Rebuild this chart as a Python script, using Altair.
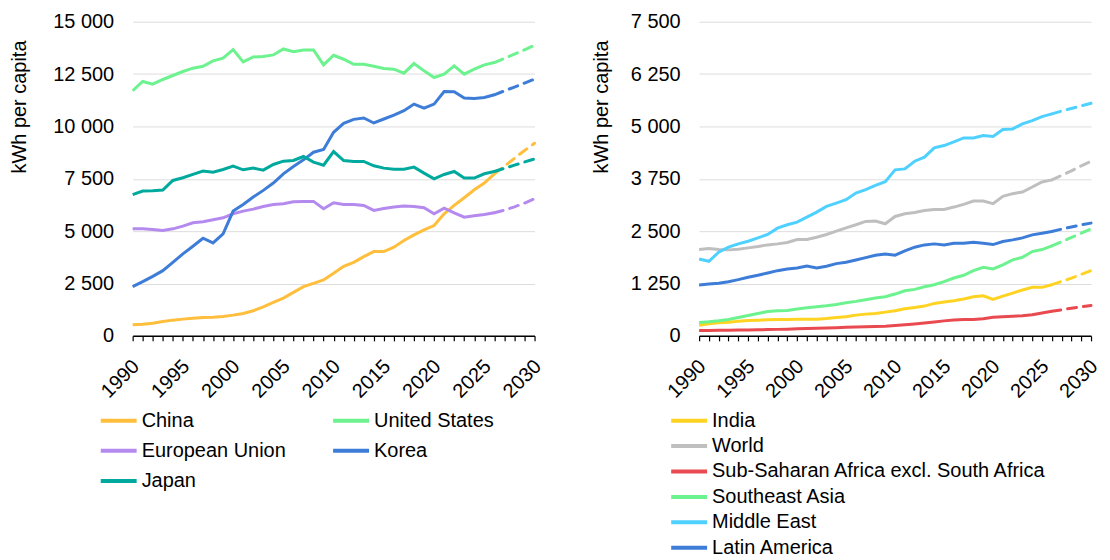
import altair as alt
import pandas as pd

years = list(range(1990, 2031))
split_year = 2026

left_names = ["China", "United States", "European Union", "Korea", "Japan"]
left_colors = ["#FFBE3C", "#6CF28E", "#B48AEE", "#3D7DD8", "#00A99D"]
china = [527, 559, 607, 687, 751, 799, 846, 878, 894, 926,
         990, 1070, 1198, 1389, 1597, 1805, 2076, 2348, 2507, 2667,
         2986, 3322, 3513, 3785, 4024, 4024, 4232, 4551, 4823, 5062,
         5270, 5829, 6228, 6596, 6979, 7298, 7739, 8100, 8480, 8850, 9198]
united_states = [11703, 12146, 12020, 12242, 12432, 12622, 12781, 12876, 13129, 13256,
                 13668, 13082, 13320, 13335, 13415, 13700, 13573, 13653, 13653, 12939,
                 13399, 13209, 12971, 12971, 12876, 12765, 12733, 12543, 13003, 12654,
                 12337, 12495, 12892, 12495, 12733, 12939, 13050, 13250, 13450, 13660, 13874]
european_union = [5110, 5110, 5078, 5030, 5110, 5238, 5398, 5446, 5541, 5637,
                  5829, 5957, 6053, 6180, 6276, 6308, 6404, 6420, 6420, 6069,
                  6356, 6276, 6276, 6228, 5989, 6085, 6148, 6196, 6180, 6116,
                  5829, 6100, 5877, 5669, 5733, 5797, 5877, 6000, 6160, 6340, 6548]
korea = [2348, 2587, 2843, 3114, 3513, 3913, 4280, 4663, 4440, 4871,
         5957, 6276, 6628, 6947, 7298, 7739, 8088, 8405, 8770, 8897,
         9721, 10149, 10339, 10403, 10165, 10355, 10545, 10751, 11068, 10878,
         11068, 11671, 11655, 11354, 11338, 11385, 11512, 11700, 11880, 12070, 12257]
japan = [6741, 6915, 6931, 6963, 7422, 7549, 7708, 7866, 7819, 7945,
         8104, 7930, 8009, 7914, 8183, 8342, 8374, 8564, 8294, 8151,
         8802, 8374, 8326, 8326, 8120, 8009, 7961, 7961, 8056, 7771,
         7501, 7708, 7850, 7533, 7533, 7739, 7850, 8000, 8150, 8300, 8453]

right_names = ["India", "World", "Sub-Saharan Africa excl. South Africa",
               "Southeast Asia", "Middle East", "Latin America"]
right_colors = ["#FFD321", "#BFBFBF", "#E84A50", "#6CF28E", "#4FD1FF", "#3D7DD8"]
india = [256, 288, 311, 327, 351, 367, 375, 383, 391, 391,
         399, 399, 399, 415, 439, 455, 495, 519, 535, 567,
         599, 647, 679, 711, 775, 807, 839, 879, 934, 958,
         871, 950, 1022, 1094, 1158, 1158, 1222, 1300, 1380, 1470, 1557]
world = [2061, 2085, 2061, 2053, 2069, 2101, 2133, 2172, 2196, 2228,
         2300, 2300, 2356, 2420, 2500, 2580, 2652, 2732, 2740, 2676,
         2851, 2915, 2947, 2995, 3019, 3019, 3075, 3139, 3219, 3219,
         3155, 3331, 3395, 3435, 3554, 3674, 3725, 3830, 3940, 4060, 4170]
ssa = [128, 130, 132, 135, 138, 141, 145, 150, 155, 160,
       168, 173, 180, 188, 196, 204, 212, 220, 226, 232,
       248, 266, 285, 305, 330, 358, 378, 392, 390, 410,
       445, 455, 468, 480, 505, 548, 588, 622, 660, 695, 727]
southeast_asia = [319, 335, 359, 391, 439, 487, 535, 583, 599, 607,
                  639, 671, 695, 719, 751, 791, 823, 863, 903, 934,
                  998, 1078, 1110, 1174, 1222, 1294, 1382, 1446, 1557, 1637,
                  1597, 1693, 1813, 1877, 2013, 2061, 2149, 2250, 2350, 2450, 2556]
middle_east = [1837, 1781, 1997, 2117, 2196, 2260, 2340, 2420, 2572, 2652,
               2716, 2835, 2955, 3091, 3171, 3251, 3410, 3490, 3594, 3680,
               3964, 3987, 4170, 4266, 4488, 4544, 4631, 4726, 4726, 4782,
               4758, 4925, 4941, 5060, 5140, 5235, 5299, 5370, 5430, 5490, 5553]
latin_america = [1214, 1238, 1254, 1294, 1342, 1398, 1446, 1502, 1557, 1597,
                 1621, 1669, 1621, 1661, 1725, 1757, 1813, 1869, 1925, 1957,
                 1925, 2029, 2117, 2172, 2196, 2172, 2212, 2212, 2236, 2212,
                 2180, 2252, 2292, 2340, 2412, 2452, 2492, 2550, 2600, 2650, 2692]

left_ticks = [0, 2500, 5000, 7500, 10000, 12500, 15000]
right_ticks = [0, 1250, 2500, 3750, 5000, 6250, 7500]

FONT = "Liberation Sans"


def make_df(names, series):
    rows = []
    for n, vals in zip(names, series):
        for yr, v in zip(years, vals):
            rows.append({"year": yr, "value": v, "series": n})
    return pd.DataFrame(rows)


def panel(names, series, colors, ticks, width, columns, direction, row_pad, col_pad,
          lx, ly, title_pad):
    df = make_df(names, series)
    x = alt.X("year:Q",
              scale=alt.Scale(domain=[1990, 2030], nice=False, zero=False),
              axis=alt.Axis(values=years, title=None, grid=False,
                            labelExpr="datum.value % 5 == 0 ? format(datum.value, 'd') : ''",
                            labelAngle=-45, labelAlign="right", labelBaseline="top",
                            labelPadding=15, labelOffset=-4, labelOverlap=False,
                            labelFlush=False, labelBound=False, tickSize=5,
                            tickColor="black", domainColor="black", domainWidth=1.5,
                            tickWidth=1.2))
    y = alt.Y("value:Q",
              scale=alt.Scale(domain=[ticks[0], ticks[-1]], nice=False),
              axis=alt.Axis(values=ticks, title="kWh per capita", grid=True,
                            domain=False, ticks=False, tickSize=0, labelPadding=19,
                            labelExpr="replace(format(datum.value, ','), ',', ' ')",
                            titlePadding=title_pad, titleY=85))
    color = alt.Color("series:N",
                      scale=alt.Scale(domain=names, range=colors),
                      legend=alt.Legend(title=None, orient="none", legendX=lx, legendY=ly,
                                        columns=columns, direction=direction,
                                        rowPadding=row_pad, columnPadding=col_pad,
                                        clipHeight=24,
                                        symbolType="stroke", symbolStrokeWidth=4,
                                        symbolSize=1296, labelOffset=3, labelLimit=0,
                                        labelFontSize=20, labelFont=FONT,
                                        labelColor="black", padding=0))
    base = alt.Chart(df)
    solid = base.mark_line(strokeWidth=3).encode(x=x, y=y, color=color).transform_filter(
        alt.datum.year <= split_year)
    dashed = base.mark_line(strokeWidth=3, strokeDash=[9, 7], strokeCap="round").encode(
        x=x, y=y, color=color).transform_filter(alt.datum.year >= split_year)
    return alt.layer(solid, dashed).properties(width=width, height=315)


left = panel(left_names, [china, united_states, european_union, korea, japan],
             left_colors, left_ticks, 403, 2, "horizontal", 6.3, 45, -34, 388, 23)
right = panel(right_names, [india, world, ssa, southeast_asia, middle_east, latin_america],
              right_colors, right_ticks, 393, 1, "vertical", 1.5, 10, -30, 388, 19)

chart = alt.hconcat(left, right, spacing=45).resolve_scale(color="independent").properties(
    padding={"left": 1, "top": 3, "right": 0, "bottom": 5}
).configure_view(stroke=None).configure_axis(
    labelFont=FONT, titleFont=FONT, labelFontSize=20, titleFontSize=20,
    labelColor="black", titleColor="black", titleFontWeight="normal",
    gridColor="#DDDDDD", gridWidth=1
)

chart.save("out.html", embed_options={"renderer": "svg", "actions": False})
